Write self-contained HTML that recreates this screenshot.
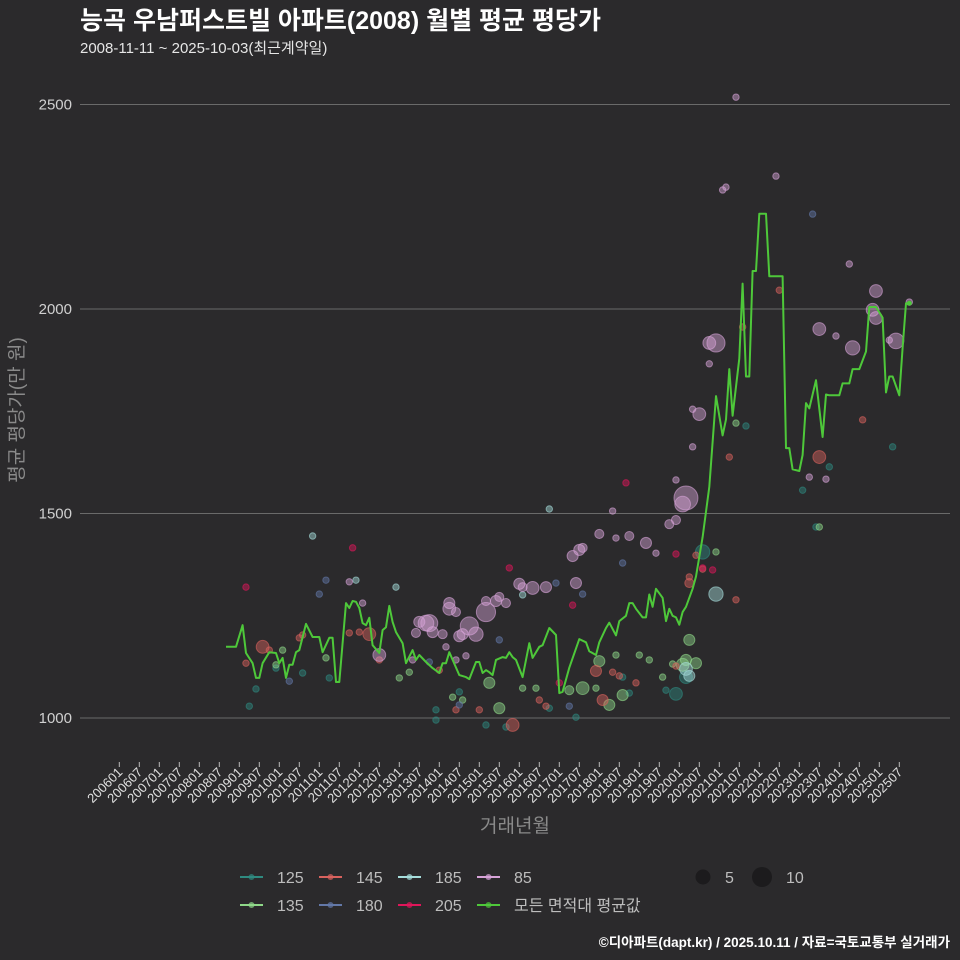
<!DOCTYPE html>
<html><head><meta charset="utf-8">
<style>
body{margin:0;background:#2b2a2c;}
svg{display:block;font-family:"Liberation Sans","Noto Sans CJK KR",sans-serif;}
</style></head>
<body>
<svg id="chart" width="960" height="960" viewBox="0 0 960 960" xmlns="http://www.w3.org/2000/svg">
<rect width="960" height="960" fill="#2b2a2c"/>
<text x="80" y="29" fill="#ffffff" font-size="25" font-weight="bold">능곡 우남퍼스트빌 아파트(2008) 월별 평균 평당가</text>
<text x="80" y="53" fill="#e6e6e6" font-size="15">2008-11-11 ~ 2025-10-03(최근계약일)</text>
<g id="grid"></g>
<g id="yticks"></g>
<g id="xticks"></g>
<g id="points"></g>
<g id="lines"></g>
<text transform="translate(23,410) rotate(-90)" text-anchor="middle" fill="#8a8a8a" font-size="19">평균 평당가(만 원)</text>
<text x="515" y="832" text-anchor="middle" fill="#8a8a8a" font-size="19">거래년월</text>
<g id="legend"></g>
<text x="950" y="947" text-anchor="end" fill="#ffffff" font-size="13.5" font-weight="bold">©디아파트(dapt.kr) / 2025.10.11 / 자료=국토교통부 실거래가</text>
</svg>
<script>
// month offsets from 2006-01
const lineMonths=[32,35,37,38,40,41,42,43,45,47,48,49,50,51,52,53,54,56,58,60,61,63,64,65,66,68,69,70,71,72,73,74,75,76,78,79,80,81,82,83,85,86,88,89,90,92,94,96,97,98,99,102,104,105,107,108,109,110,111,112,113,115,116,117,118,119,121,123,124,126,127,129,131,132,133,135,138,140,141,143,144,146,147,149,150,152,153,154,155,157,158,159,160,161,163,164,165,166,167,168,169,170,172,173,175,177,179,181,182,183,184,186,187,188,189,190,191,192,194,195,199,200,201,202,204,205,206,207,209,211,212,213,216,217,219,220,222,224,225,227,229,230,231,232,234,235,236,237];
const lineValues=[1174,1174,1227,1159,1134,1098,1098,1134,1161,1159,1134,1147,1098,1130,1130,1161,1166,1230,1198,1198,1161,1196,1196,1088,1088,1281,1269,1286,1284,1269,1232,1227,1245,1178,1159,1215,1222,1274,1235,1210,1183,1134,1166,1142,1154,1137,1122,1110,1134,1134,1161,1105,1100,1095,1137,1137,1110,1117,1112,1105,1142,1149,1147,1161,1149,1142,1100,1183,1147,1174,1178,1220,1203,1061,1064,1123,1193,1185,1163,1154,1185,1220,1233,1202,1237,1250,1281,1281,1267,1246,1246,1302,1272,1316,1294,1237,1267,1250,1246,1228,1259,1272,1316,1346,1442,1565,1787,1691,1730,1853,1739,1879,2062,1835,1835,2093,2093,2233,2233,2080,2080,1660,1660,1608,1604,1643,1770,1757,1826,1687,1791,1789,1789,1818,1818,1853,1853,1896,2005,2005,1979,1796,1835,1835,1789,1905,2014,2014];
const yTicks=[1000,1500,2000,2500];
const xTickLabels=[];for(let y=2006;y<=2025;y++){xTickLabels.push(y+"01");xTickLabels.push(y+"07");}
const areaColors={"125":"#2f8a80","135":"#8fd889","145":"#d9625e","180":"#6378a8","185":"#a6dedc","205":"#e0165a","85":"#d7a3d8","avg":"#4ec83a"};
// [monthOffset, value, count]
const pts85=[[78,1154,4],[92,1232,6],[94,1210,3],[99,1281,3],[102,1200,3],[105,1225,8],[103,1205,3],[107,1205,5],[110,1259,9],[113,1286,3],[114,1296,2],[116,1281,2],[120,1328,3],[121,1320,2],[124,1318,4],[128,1320,3],[136,1396,3],[138,1411,3],[139,1416,2],[137,1330,3],[144,1450,2],[148,1506,1],[149,1440,1],[153,1445,2],[158,1428,3],[161,1403,1],[165,1474,2],[167,1484,2],[169,1523,6],[170,1538,14],[167,1582,1],[172,1663,1],[174,1743,4],[172,1755,1],[177,1917,4],[179,1917,8],[177,1866,1],[181,2291,1],[182,2298,1],[185,2518,1],[197,2325,1],[210,1951,4],[219,2110,1],[215,1934,1],[220,1905,5],[226,1998,4],[227,1978,4],[227,2044,4],[231,1924,1],[233,1922,6],[237,2017,1],[207,1589,1],[212,1584,1],[88,1142,1],[89,1208,2],[97,1205,2],[98,1174,1],[101,1142,1],[104,1152,1],[93,1232,7],[90,1235,3],[99,1267,4],[110,1286,2],[101,1259,2],[69,1333,1],[73,1281,1]];
const pts125=[[41,1071,1],[39,1029,1],[47,1122,1],[55,1110,1],[63,1098,1],[95,995,1],[102,1064,1],[110,983,1],[116,978,1],[129,1024,1],[137,1002,1],[151,1100,1],[167,1059,4],[170,1100,4],[175,1406,5],[209,1467,1],[213,1614,1],[232,1663,1],[188,1714,1],[205,1557,1],[164,1068,1],[153,1061,1],[95,1020,1]];
const pts135=[[47,1130,1],[49,1166,1],[62,1147,1],[84,1098,1],[87,1112,1],[100,1051,1],[111,1086,3],[114,1024,3],[125,1073,1],[139,1073,4],[143,1073,1],[144,1139,3],[147,1032,3],[151,1056,3],[149,1154,1],[156,1154,1],[163,1100,1],[169,1130,4],[170,1142,3],[173,1134,3],[171,1191,3],[179,1406,1],[185,1721,1],[210,1467,1],[135,1068,2],[159,1142,1],[166,1132,1],[103,1044,1],[121,1073,1]];
const pts145=[[43,1174,4],[45,1166,1],[38,1134,1],[54,1196,1],[55,1203,1],[69,1208,1],[72,1210,1],[75,1205,4],[78,1142,1],[96,1117,1],[101,1020,1],[108,1020,1],[118,983,4],[128,1029,1],[143,1115,3],[145,1044,3],[148,1112,1],[150,1103,1],[155,1086,1],[167,1127,1],[171,1330,2],[171,1345,1],[173,1398,1],[175,1364,1],[185,1289,1],[210,1638,4],[223,1729,1],[187,1956,1],[198,2046,1],[183,1638,1],[126,1044,1]];
const pts180=[[51,1090,1],[60,1303,1],[62,1337,1],[93,1137,1],[102,1032,1],[114,1191,1],[131,1330,1],[139,1303,1],[151,1379,1],[208,2232,1],[135,1029,1]];
const pts185=[[71,1337,1],[58,1445,1],[83,1320,1],[121,1301,1],[129,1511,1],[171,1103,3],[170,1120,4],[179,1303,5]];
const pts205=[[38,1320,1],[70,1416,1],[117,1367,1],[136,1276,1],[152,1575,1],[167,1401,1],[175,1367,1],[178,1362,1],[132,1086,1]];

const NS="http://www.w3.org/2000/svg";
const X0=119.3, MW=20/6, Y1000=718, PPV=204.5/500;
function xs(m){return X0+m*MW;}
function ys(v){return Y1000-(v-1000)*PPV;}
function mk(tag,attrs,parent){const e=document.createElementNS(NS,tag);for(const k in attrs)e.setAttribute(k,attrs[k]);parent.appendChild(e);return e;}

const grid=document.getElementById('grid'), yt=document.getElementById('yticks');
yTicks.forEach(v=>{
  const l=mk('line',{x1:80,x2:950,y1:ys(v),y2:ys(v),stroke:'#6a6a6a','stroke-width':1},grid);
  
  
  const t=mk('text',{x:72,y:ys(v)+5,'text-anchor':'end',fill:'#d0d0d0','font-size':15},yt);
  t.textContent=v;
  
  
});
const xt=document.getElementById('xticks');
xTickLabels.forEach((lab,i)=>{
  const x=xs(i*6);
  const tk=mk('line',{x1:x,x2:x,y1:762,y2:767,stroke:'#bbbbbb','stroke-width':1},xt);
  
  
  const t=mk('text',{transform:`translate(${x+4},${773}) rotate(-45)`,'text-anchor':'end',fill:'#e0e0e0','font-size':13},xt);
  t.textContent=lab;
  
  
});
const pg=document.getElementById('points');
function drawPts(arr,type){
  arr.forEach(p=>{
    const r=Math.sqrt(p[2])*3.2;
    const c=mk('circle',{cx:xs(p[0]),cy:ys(p[1]),r:r,fill:areaColors[type],'fill-opacity':0.45,stroke:areaColors[type],'stroke-opacity':0.6,'stroke-width':1},pg);
    
    
  });
}
drawPts(pts125,"125");drawPts(pts135,"135");drawPts(pts145,"145");drawPts(pts180,"180");
drawPts(pts185,"185");drawPts(pts205,"205");drawPts(pts85,"85");
const lg=document.getElementById('lines');
const d=lineMonths.map((m,i)=>(i?'L':'M')+xs(m).toFixed(1)+','+ys(lineValues[i]).toFixed(1)).join(' ');
const path=mk('path',{d:d,fill:'none',stroke:areaColors.avg,'stroke-width':2,'stroke-linejoin':'round'},lg);


const lastDot=mk('circle',{cx:xs(lineMonths[lineMonths.length-1]),cy:ys(lineValues[lineValues.length-1]),r:2.5,fill:areaColors.avg},lg);



// legend
const leg=document.getElementById('legend');
const legItems=[["125",240,877],["145",319,877],["185",398,877],["85",477,877],["135",240,905],["180",319,905],["205",398,905],["avg",477,905]];
const legLabels={"125":"125","145":"145","185":"185","85":"85","135":"135","180":"180","205":"205","avg":"모든 면적대 평균값"};
legItems.forEach(it=>{
  const g=mk('g',{},leg);
  
  
  mk('line',{x1:it[1],x2:it[1]+23,y1:it[2],y2:it[2],stroke:areaColors[it[0]],'stroke-width':2},g);
  mk('circle',{cx:it[1]+11.5,cy:it[2],r:3,fill:areaColors[it[0]],'fill-opacity':0.7},g);
  const t=mk('text',{x:it[1]+37,y:it[2]+6,fill:'#bdbdbd','font-size':16},g);
  t.textContent=legLabels[it[0]];
});
const sizeLeg=[[5,703,877,7.5],[10,762,877,10]];
sizeLeg.forEach(s=>{
  const g=mk('g',{},leg);
  
  
  mk('circle',{cx:s[1],cy:s[2],r:s[3],fill:'#1c1b1d'},g);
  const t=mk('text',{x:s[1]+(s[0]==5?22:24),y:s[2]+6,fill:'#bdbdbd','font-size':16},g);
  t.textContent=s[0];
});
</script>
</body></html>
